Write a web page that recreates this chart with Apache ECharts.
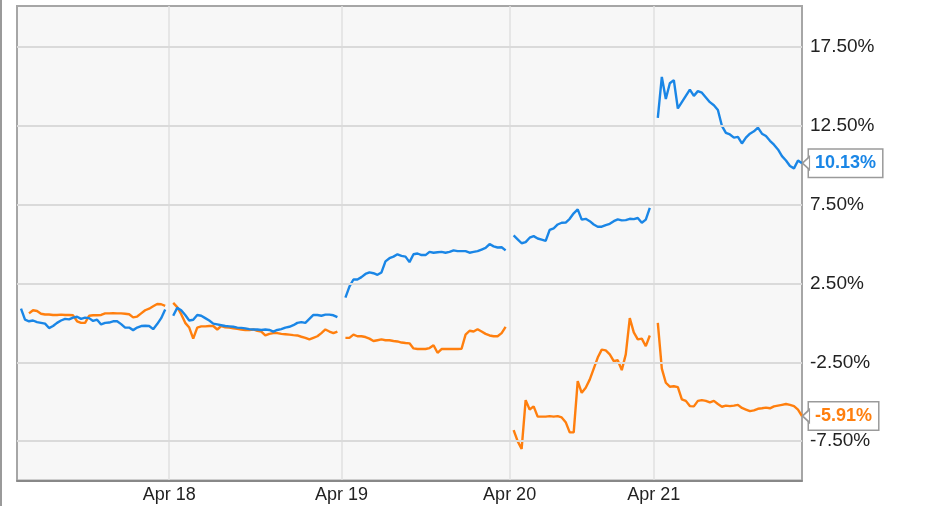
<!DOCTYPE html>
<html><head><meta charset="utf-8">
<script src="https://cdn.jsdelivr.net/npm/echarts@6/dist/echarts.min.js"></script>
<style>html,body{margin:0;padding:0;background:#fff}#c{width:931px;height:506px}</style>
</head><body><div id="c"></div><script>
const dayLabels = ['Apr 18', 'Apr 19', 'Apr 20', 'Apr 21'];
const yTickLabels = [17.5, 12.5, 7.5, 2.5, -2.5, -7.5];

const blueApr17 = [null, 0.9, 0.2, 0.1, 0.15, 0.05, 0.0, -0.05, -0.33, -0.2, 0.0, 0.15, 0.25, 0.22, 0.33, 0.39, 0.25, 0.33, 0.3, 0.12, 0.2, -0.1, 0.0, 0.02, 0.1, 0.1, -0.08, -0.3, -0.3, -0.46, -0.3, -0.2, -0.18, -0.2, -0.4, -0.08, 0.3, 0.85];
const blueApr18 = [0.45, 0.95, 0.8, 0.5, 0.15, 0.2, 0.5, 0.45, 0.3, 0.15, -0.05, -0.1, -0.15, -0.2, -0.22, -0.25, -0.3, -0.32, -0.35, -0.4, -0.42, -0.42, -0.45, -0.42, -0.45, -0.56, -0.45, -0.4, -0.3, -0.25, -0.15, 0.0, 0.05, 0.0, 0.25, 0.5, 0.5, 0.45, 0.52, 0.52, 0.48, 0.36];
const blueApr19 = [1.6, 2.3, 2.75, 2.75, 2.9, 3.1, 3.2, 3.15, 3.05, 3.2, 3.9, 4.1, 4.2, 4.35, 4.25, 4.2, 3.85, 4.35, 4.4, 4.3, 4.3, 4.5, 4.45, 4.48, 4.5, 4.45, 4.5, 4.6, 4.55, 4.55, 4.55, 4.45, 4.5, 4.55, 4.65, 4.75, 5.0, 4.85, 4.78, 4.8, 4.6];
const blueApr20 = [5.55, 5.3, 5.05, 5.12, 5.4, 5.5, 5.35, 5.28, 5.2, 5.9, 6.0, 6.24, 6.35, 6.36, 6.6, 6.95, 7.2, 6.55, 6.6, 6.45, 6.24, 6.1, 6.1, 6.2, 6.28, 6.45, 6.56, 6.5, 6.52, 6.6, 6.58, 6.65, 6.35, 6.55, 7.3];
const blueApr21 = [13.0, 15.6, 14.2, 15.2, 15.4, 13.6, 14.0, 14.4, 14.8, 14.4, 14.7, 14.6, 14.3, 14.0, 13.8, 13.5, 12.5, 12.05, 11.95, 11.75, 11.8, 11.38, 11.75, 12.0, 12.15, 12.38, 12.0, 11.85, 11.55, 11.3, 11.0, 10.58, 10.3, 9.95, 9.8, 10.3, 10.13];

const orangeApr17 = [null, null, null, 0.6, 0.8, 0.75, 0.58, 0.53, 0.53, 0.5, 0.5, 0.52, 0.5, 0.5, 0.48, 0.1, 0.0, 0.0, 0.45, 0.48, 0.48, 0.5, 0.6, 0.6, 0.62, 0.6, 0.6, 0.58, 0.55, 0.35, 0.4, 0.6, 0.8, 0.9, 1.05, 1.2, 1.18, 1.08];
const orangeApr18 = [1.27, 1.0, 0.55, 0.0, -0.3, -1.0, -0.3, -0.22, -0.22, -0.2, -0.2, -0.42, -0.2, -0.28, -0.3, -0.35, -0.38, -0.42, -0.45, -0.45, -0.42, -0.5, -0.55, -0.8, -0.7, -0.65, -0.65, -0.7, -0.72, -0.75, -0.78, -0.8, -0.88, -0.95, -1.05, -0.95, -0.85, -0.65, -0.42, -0.55, -0.65, -0.55];
const orangeApr19 = [-0.95, -0.95, -0.75, -0.85, -0.85, -0.9, -1.0, -1.15, -1.1, -1.05, -1.1, -1.1, -1.15, -1.18, -1.25, -1.28, -1.3, -1.62, -1.66, -1.66, -1.66, -1.6, -1.42, -1.9, -1.66, -1.66, -1.66, -1.66, -1.66, -1.64, -0.75, -0.5, -0.55, -0.4, -0.55, -0.7, -0.8, -0.85, -0.85, -0.65, -0.25];
const orangeApr20 = [-6.8, -7.5, -8.0, -4.9, -5.5, -5.3, -5.95, -5.95, -5.95, -5.92, -5.95, -5.92, -6.0, -6.3, -6.95, -6.95, -3.7, -4.44, -4.12, -3.6, -2.9, -2.2, -1.7, -1.75, -2.0, -2.43, -2.37, -3.0, -2.0, 0.3, -0.6, -1.05, -1.0, -1.48, -0.8];
const orangeApr21 = [0.0, -2.9, -3.8, -4.05, -4.02, -4.08, -4.85, -4.95, -5.28, -5.3, -4.95, -4.9, -4.95, -5.05, -4.95, -5.15, -5.32, -5.25, -5.28, -5.25, -5.2, -5.4, -5.5, -5.6, -5.55, -5.45, -5.42, -5.38, -5.42, -5.3, -5.25, -5.2, -5.15, -5.2, -5.28, -5.5, -5.91];

const blueDays = [blueApr17, blueApr18, blueApr19, blueApr20, blueApr21];
const orangeDays = [orangeApr17, orangeApr18, orangeApr19, orangeApr20, orangeApr21];

const categories = [], blue = [], orange = [];
blueDays.forEach((d, k) => {
  if (k > 0) { categories.push(dayLabels[k - 1]); blue.push(null); orange.push(null); }
  d.forEach((v, j) => { categories.push(''); blue.push(v); orange.push(orangeDays[k][j]); });
});
const lastIdx = categories.length - 1;

const FONT = "'Liberation Sans', Arial, sans-serif";
const BLUE = '#1a86e6', ORANGE = '#ff7f0e';
const isDay = (i, v) => v !== '';

const endLabel = (color) => ({
  show: true, distance: 7,
  formatter: p => Number(p.value).toFixed(2) + '%',
  color, fontWeight: 'bold', fontSize: 18, fontFamily: FONT,
  backgroundColor: '#fff', borderColor: '#9a9a9a', borderWidth: 1.5,
  padding: [5, 6, 4, 6]
});
const pointer = (values) => ({
  silent: true, symbol: 'triangle', symbolSize: [13, 7], symbolRotate: 90, symbolOffset: [4, 0],
  itemStyle: { color: '#fff', borderColor: '#9a9a9a', borderWidth: 1.5 },
  label: { show: false },
  data: [{ coord: [lastIdx, values[lastIdx]] }]
});

const chart = echarts.init(document.getElementById('c'), null, { renderer: 'canvas' });
chart.setOption({
  animation: false,
  backgroundColor: '#fff',
  graphic: [{ type: 'rect', shape: { x: 0, y: 0, width: 2, height: 506 }, style: { fill: '#9a9a9a' } }],
  grid: { left: 17, right: 129, top: 6, bottom: 25.5, show: true, backgroundColor: '#f7f7f7', borderColor: '#a6a6a6', borderWidth: 2 },
  xAxis: {
    type: 'category', data: categories, boundaryGap: false,
    axisLine: { show: true, onZero: false, lineStyle: { color: '#888', width: 2 } },
    axisTick: { show: false },
    axisLabel: { interval: isDay, margin: 6, fontSize: 18, color: '#222', fontFamily: FONT },
    splitLine: { show: true, interval: isDay, lineStyle: { color: '#e0e0e0', width: 1.5 } }
  },
  yAxis: {
    type: 'value', position: 'right', min: -10, max: 20.1, interval: 2.5,
    axisLine: { show: false }, axisTick: { show: false }, splitLine: { show: false },
    axisLabel: {
      margin: 8, fontSize: 19, color: '#222', fontFamily: FONT,
      formatter: v => yTickLabels.some(t => Math.abs(t - v) < 1e-6) ? v.toFixed(2) + '%' : ''
    }
  },
  series: [
    {
      type: 'line', data: categories.map(() => null), silent: true, z: 1,
      markLine: {
        silent: true, symbol: ['none', 'none'], label: { show: false },
        lineStyle: { color: '#dadada', width: 2, type: 'solid' },
        data: yTickLabels.map(t => ({ yAxis: t }))
      }
    },
    {
      name: 'orange', type: 'line', data: orange, showSymbol: false, connectNulls: false, z: 3,
      lineStyle: { color: ORANGE, width: 2.4 }, itemStyle: { color: ORANGE },
      endLabel: endLabel(ORANGE), markPoint: pointer(orange)
    },
    {
      name: 'blue', type: 'line', data: blue, showSymbol: false, connectNulls: false, z: 4,
      lineStyle: { color: BLUE, width: 2.4 }, itemStyle: { color: BLUE },
      endLabel: endLabel(BLUE), markPoint: pointer(blue)
    }
  ]
});
</script></body></html>
